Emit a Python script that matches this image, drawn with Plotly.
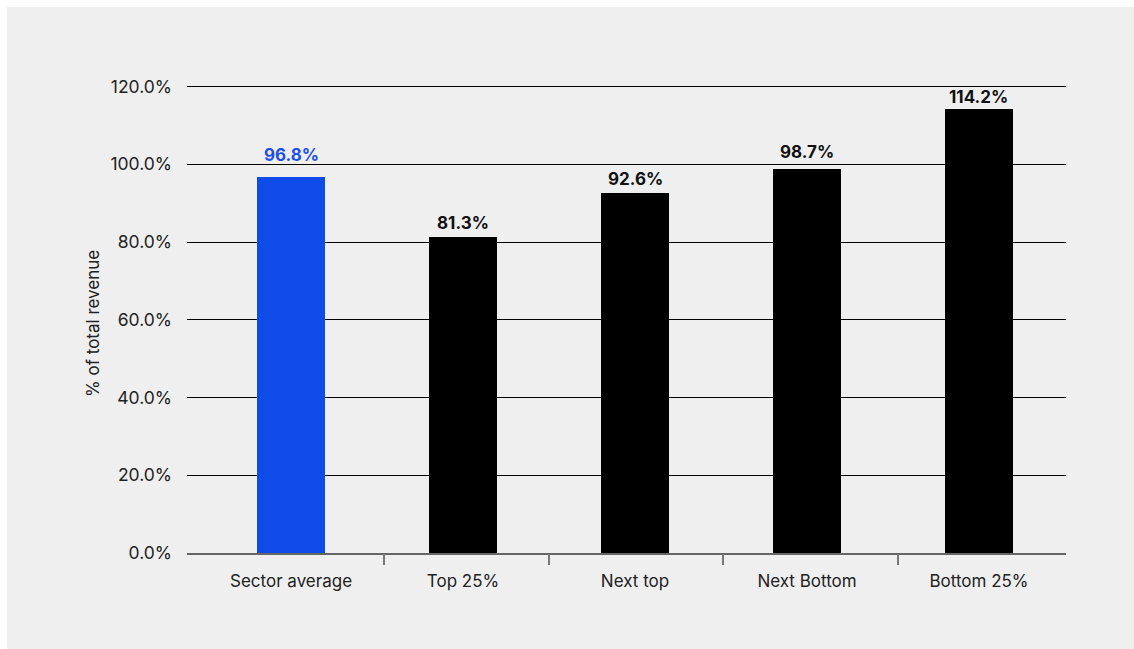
import plotly.graph_objects as go

# Operating cost ratio by performance group
categories = ["Sector average", "Top 25%", "Next top", "Next Bottom", "Bottom 25%"]
values = [96.8, 81.3, 92.6, 98.7, 114.2]
bar_colors = ["#0F4BE8", "#000000", "#000000", "#000000", "#000000"]
label_colors = ["#1D4FE6", "#111111", "#111111", "#111111", "#111111"]
label_lift = [22, 14, 14, 17, 12]  # px from bar top to label centre
y_ticks = [0, 20, 40, 60, 80, 100, 120]
y_tick_text = [f"{v:.1f}%" for v in y_ticks]
boundary_ticks = [0.54, 1.5, 2.51, 3.53]

FONT = "Inter, Roboto, sans-serif"
x_range = [-0.605, 4.506]
y_range = [0, 120.4]

# plot area in pixels
L, R, T, B = 187, 1066, 85, 553
PW, PH = R - L, B - T

fig = go.Figure()
fig.add_trace(go.Bar(
    x=list(range(len(categories))),
    y=values,
    width=0.4,
    marker=dict(color=bar_colors, line=dict(width=0)),
    hoverinfo="skip",
))

# value labels above each bar
for i, (v, c, lift) in enumerate(zip(values, label_colors, label_lift)):
    fig.add_annotation(
        x=i, y=v, text=f"<b>{v:.1f}%</b>", showarrow=False,
        yanchor="middle", yshift=lift,
        font=dict(family=FONT, size=17, color=c),
    )

# y-axis title
fig.add_annotation(
    xref="paper", yref="paper",
    x=(93 - L) / PW, y=(B - 324) / PH,
    text="% of total revenue", textangle=-90, showarrow=False,
    xanchor="center", yanchor="middle",
    font=dict(family=FONT, size=17, color="#222222"),
)

# invisible trace so the overlay axis with boundary ticks is rendered
fig.add_trace(go.Scatter(x=[None], y=[None], xaxis="x2", yaxis="y", hoverinfo="skip"))

fig.update_layout(
    width=1134, height=649,
    margin=dict(l=L, r=1134 - R, t=T, b=649 - B),
    paper_bgcolor="#FFFFFF",
    plot_bgcolor="rgba(0,0,0,0)",
    showlegend=False,
    font=dict(family=FONT, size=17, color="#222222"),
    bargap=0,
    xaxis=dict(
        range=x_range,
        tickmode="array",
        tickvals=list(range(len(categories))),
        ticktext=categories,
        ticks="",
        showgrid=False,
        zeroline=False,
        showline=True,
        linecolor="#666666",
        linewidth=1.5,
        tickfont=dict(family=FONT, size=17, color="#222222"),
        ticklabelstandoff=12,
    ),
    xaxis2=dict(
        range=x_range,
        overlaying="x",
        anchor="y",
        side="bottom",
        tickmode="array",
        tickvals=boundary_ticks,
        ticks="outside",
        ticklen=11,
        tickwidth=1.5,
        tickcolor="#777777",
        showticklabels=False,
        showgrid=False,
        zeroline=False,
        showline=False,
    ),
    yaxis=dict(
        range=y_range,
        tickmode="array",
        tickvals=y_ticks,
        ticktext=y_tick_text,
        showgrid=True,
        gridcolor="#000000",
        gridwidth=1,
        zeroline=False,
        ticks="",
        ticklabelstandoff=14,
        tickfont=dict(family=FONT, size=17.5, color="#222222"),
    ),
    shapes=[dict(
        type="rect", xref="paper", yref="paper",
        x0=(7 - L) / PW, x1=(1134 - L) / PW,
        y0=(B - 649) / PH, y1=(B - 7) / PH,
        fillcolor="#EFEFEF", line=dict(width=0), layer="below",
    )],
)

fig.write_html("out.html")
